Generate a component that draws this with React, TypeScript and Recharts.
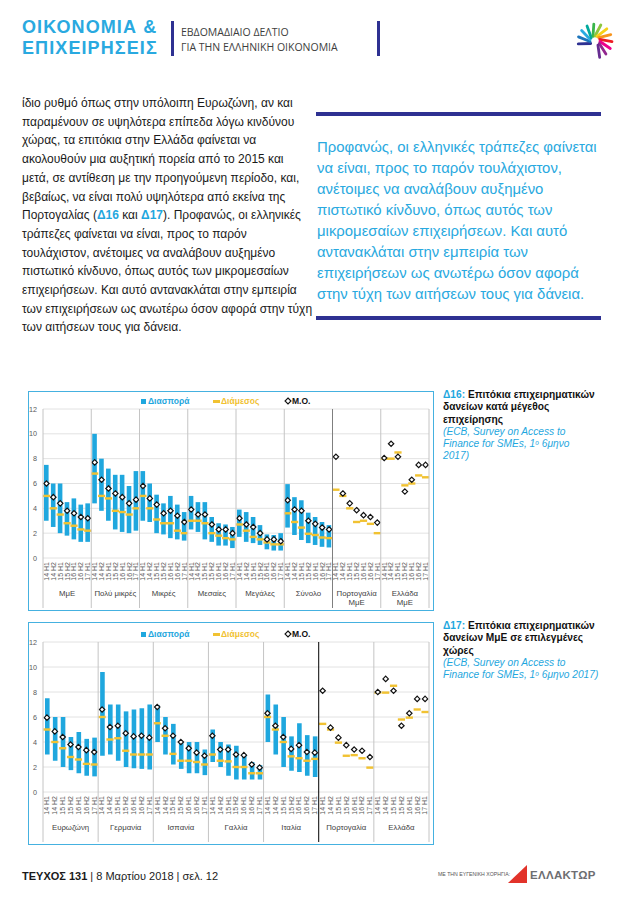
import React from 'react';
import { ComposedChart, Bar, Line, XAxis, YAxis, CartesianGrid } from 'recharts';

const periods = ['14 H1', '14 H2', '15 H1', '15 H2', '16 H1', '16 H2', '17 H1'];
const yTicks = [0, 2, 4, 6, 8, 10, 12];

// Δ16 - by firm size
const groups16 = ['ΜμΕ', 'Πολύ μικρές', 'Μικρές', 'Μεσαίες', 'Μεγάλες', 'Σύνολο', 'Πορτογαλία\nΜμΕ', 'Ελλάδα\nΜμΕ'];
const low16 = [
  3.0, 2.5, 2.0, 1.8, 1.5, 1.3, 1.3,
  4.4, 3.8, 3.0, 2.3, 2.1, 2.0, 2.2,
  3.0, 2.9, 2.0, 1.9, 1.6, 1.5, 1.4,
  2.3, 2.1, 1.5, 1.3, 1.0, 1.0, 0.8,
  1.7, 1.3, 1.2, 1.05, 0.7, 0.6, 0.6,
  2.45, 1.85, 1.45, 1.2, 1.05, 0.9, 0.85,
  null, null, null, null, null, null, null,
  null, null, null, null, null, null, null,
];
const high16 = [
  7.5, 6.0, 6.0, 4.5, 4.8, 4.3, 4.4,
  10.0, 8.0, 7.2, 6.7, 6.7, 5.8, 7.0,
  7.0, 6.0, 5.1, 4.4, 5.0, 4.3, 3.7,
  5.0, 4.5, 4.5, 3.3, 2.8, 2.7, 2.5,
  3.9, 3.7, 3.3, 2.65, 1.9, 1.85, 2.0,
  5.95, 4.9, 4.65, 3.65, 3.3, 2.9, 2.65,
  null, null, null, null, null, null, null,
  null, null, null, null, null, null, null,
];
const median16 = [
  5.0, 4.0, 3.5, 2.8, 2.6, 2.3, 2.2,
  6.8, 5.0, 4.8, 3.8, 3.7, 3.5, 4.0,
  5.0, 4.0, 3.1, 2.8, 2.8, 2.2, 2.0,
  3.0, 3.0, 2.8, 2.0, 1.8, 1.6, 1.5,
  2.7, 2.2, 1.7, 1.5, 1.25, 1.1, 1.1,
  3.6, 2.9, 2.45, 1.95, 1.85, 1.65, 1.6,
  5.5, 5.0, 4.0, 2.9, 3.0, 2.75, 2.0,
  8.0, 8.0, 8.5, 5.85, 6.0, 6.65, 6.5,
];
const mean16 = [
  6.0, 4.9, 4.4, 3.8, 3.6, 3.3, 3.2,
  7.7, 6.3, 5.6, 5.2, 4.9, 4.4, 4.7,
  5.8, 4.8, 4.3, 3.6, 3.8, 3.4, 2.9,
  3.9, 3.5, 3.5, 2.7, 2.3, 2.3, 2.0,
  3.2, 2.7, 2.5, 2.0, 1.5, 1.5, 1.35,
  4.65, 3.9, 3.8, 3.0, 2.75, 2.45, 2.3,
  8.15, 5.2, 4.4, 3.85, 3.45, 3.3, 2.85,
  8.05, 9.2, 8.15, 5.35, 6.3, 7.5, 7.5,
];

// Δ17 - SMEs by country
const groups17 = ['Ευρωζώνη', 'Γερμανία', 'Ισπανία', 'Γαλλία', 'Ιταλία', 'Πορτογαλία', 'Ελλάδα'];
const low17 = [
  3.0, 2.5, 2.0, 1.75, 1.5, 1.3, 1.25,
  2.9, 3.0, 2.5, 2.0, 1.9, 1.85, 1.8,
  4.0, 3.0, 2.2, 1.85, 1.5, 1.5, 1.35,
  2.4, 2.0, 1.3, 1.0, 1.0, 1.0, 1.0,
  4.0, 3.0, 2.0, 1.7, 1.6, 1.3, 1.2,
  null, null, null, null, null, null, null,
  null, null, null, null, null, null, null,
];
const high17 = [
  7.5, 6.0, 6.0, 4.4, 4.8, 4.25, 4.35,
  9.6, 7.0, 7.0, 6.45, 6.6, 6.7, 7.0,
  6.95, 6.0, 5.45, 4.0, 4.0, 4.0, 3.4,
  5.0, 4.0, 3.8, 3.7, 3.0, 2.4, 2.15,
  7.8, 7.0, 6.0, 4.45, 5.5, 4.55, 4.45,
  null, null, null, null, null, null, null,
  null, null, null, null, null, null, null,
];
const median17 = [
  5.0, 4.0, 3.5, 2.8, 2.6, 2.25, 2.2,
  6.0, 4.2, 4.3, 3.3, 3.0, 3.0, 3.0,
  5.5, 4.5, 3.05, 2.5, 2.5, 2.4, 2.2,
  3.0, 2.5, 2.45, 2.0, 2.0, 1.5, 1.5,
  6.0, 5.0, 4.0, 2.85, 2.7, 2.5, 2.65,
  5.45, 5.0, 3.95, 2.9, 2.95, 2.7, 1.95,
  7.95, 7.95, 8.5, 5.8, 5.95, 6.6, 6.4,
];
const mean17 = [
  5.95, 4.85, 4.4, 3.8, 3.6, 3.35, 3.2,
  6.6, 5.2, 5.3, 4.7, 4.45, 4.5, 4.35,
  6.8, 5.1, 4.5, 4.0, 3.5, 3.15, 2.9,
  4.5, 3.4, 3.4, 3.0, 2.95, 2.2, 1.95,
  6.3, 5.3, 4.4, 3.45, 3.75, 3.2, 3.15,
  8.1, 5.15, 4.35, 3.75, 3.4, 3.3, 2.8,
  8.0, 9.05, 8.1, 5.3, 6.3, 7.45, 7.45,
];

const CYAN = '#1fa7de';
const GOLD = '#f1c232';
const NAVY = '#2e3192';
const FONT = '"Liberation Sans", Arial, sans-serif';

function buildRows(low: (number | null)[], high: (number | null)[], median: number[], mean: number[]) {
  return median.map((m, i) => ({
    key: String(i),
    range: low[i] == null ? null : [low[i], high[i]],
    median: m,
    mean: mean[i],
  }));
}

const MedianDot = (p: any) => {
  if (p.cy == null || isNaN(p.cy)) return <g key={p.key} />;
  return <rect key={p.key} x={p.cx - 3.6} y={p.cy - 1.2} width={7.2} height={2.4} fill={GOLD} />;
};

const MeanDot = (p: any) => {
  if (p.cy == null || isNaN(p.cy)) return <g key={p.key} />;
  const r = 2.7;
  const { cx, cy } = p;
  return (
    <polygon
      key={p.key}
      points={`${cx},${cy - r} ${cx + r},${cy} ${cx},${cy + r} ${cx - r},${cy}`}
      fill="#fff"
      stroke="#111"
      strokeWidth={1.2}
    />
  );
};

function Legend({ top }: { top: number }) {
  const txt = { position: 'absolute' as const, top: top - 6, fontSize: 8.5, fontWeight: 700, fontFamily: FONT, lineHeight: '12px', whiteSpace: 'nowrap' as const };
  return (
    <>
      <div style={{ position: 'absolute', left: 113, top: top - 2.5, width: 5, height: 5, background: CYAN }} />
      <div style={{ ...txt, left: 120, color: CYAN }}>Διασπορά</div>
      <div style={{ position: 'absolute', left: 185, top: top - 1, width: 7, height: 2.5, background: GOLD }} />
      <div style={{ ...txt, left: 193, color: GOLD }}>Διάμεσος</div>
      <svg style={{ position: 'absolute', left: 256, top: top - 4 }} width={8} height={8}>
        <polygon points="4,1 7,4 4,7 1,4" fill="#fff" stroke="#111" strokeWidth={1.1} />
      </svg>
      <div style={{ ...txt, left: 264, color: '#111' }}>M.O.</div>
    </>
  );
}

type ChartProps = {
  groups: string[];
  rows: any[];
  boxTop: number;
  boxHeight: number;
  plotTop: number;
  plotH: number;
  darkSep: number;
  darkColor: string;
  legendTop: number;
};

function RangeChart({ groups, rows, boxTop, boxHeight, plotTop, plotH, darkSep, darkColor, legendTop }: ChartProps) {
  const width = 406;
  const mLeft = 3;
  const yw = 12;
  const mRight = 5;
  const band = (width - mLeft - yw - mRight) / rows.length;
  const plotBottom = plotTop + plotH;

  const renderTick = (props: any) => {
    const { x, payload } = props;
    const i = Number(payload.value);
    const k = i % 7;
    const g = Math.floor(i / 7);
    const sepColor = i === darkSep ? darkColor : '#c4c4c4';
    return (
      <g>
        <text
          transform={`translate(${x + 2.4},${plotBottom + 4}) rotate(-90)`}
          textAnchor="end"
          fontSize={7}
          fill="#595959"
          fontFamily={FONT}
        >
          {periods[k]}
        </text>
        {k === 0 && (
          <line x1={x - band / 2} x2={x - band / 2} y1={plotTop} y2={plotBottom + 50} stroke={sepColor} strokeWidth={1} />
        )}
        {i === rows.length - 1 && (
          <line x1={x + band / 2} x2={x + band / 2} y1={plotTop} y2={plotBottom + 50} stroke="#c4c4c4" strokeWidth={1} />
        )}
        {k === 3 && (
          <text x={x} y={plotBottom + 37.5} textAnchor="middle" fontSize={7.8} fill="#404040" fontFamily={FONT}>
            {groups[g].split('\n').map((s, j) => (
              <tspan key={j} x={x} dy={j ? 9.5 : 0}>
                {s}
              </tspan>
            ))}
          </text>
        )}
      </g>
    );
  };

  return (
    <div style={{ position: 'absolute', left: 28, top: boxTop, width, height: boxHeight }}>
      <ComposedChart
        width={width}
        height={boxHeight}
        data={rows}
        margin={{ top: plotTop, right: mRight, left: mLeft, bottom: 0 }}
      >
        <CartesianGrid vertical={false} stroke="#e2e2e2" />
        <XAxis
          dataKey="key"
          interval={0}
          axisLine={false}
          tickLine={false}
          tickSize={0}
          height={boxHeight - plotTop - plotH}
          tick={renderTick}
        />
        <YAxis
          domain={[0, 12]}
          ticks={yTicks}
          interval={0}
          width={yw}
          axisLine={false}
          tickLine={false}
          tickSize={0}
          tickMargin={6}
          tick={{ fontSize: 7.2, fill: '#595959', fontFamily: FONT }}
        />
        <Bar dataKey="range" fill={CYAN} barSize={4.6} isAnimationActive={false} />
        <Line dataKey="median" stroke="none" dot={MedianDot} activeDot={false} isAnimationActive={false} />
        <Line dataKey="mean" stroke="none" dot={MeanDot} activeDot={false} isAnimationActive={false} />
      </ComposedChart>
      <Legend top={legendTop} />
      <div style={{ position: 'absolute', left: 0, top: 0, width, height: boxHeight, border: '1.5px solid #45b1e0', boxSizing: 'border-box', pointerEvents: 'none' }} />
    </div>
  );
}

function StarLogo() {
  const colors = ['#2e3192', '#1c75bc', '#27aae1', '#00a99d', '#39b54a', '#8dc63f', '#f7d117', '#f7941d', '#ed1c24', '#ec008c', '#92278f', '#662d91'];
  const cx = 19;
  const cy = 19;
  return (
    <svg width={40} height={40} style={{ position: 'absolute', left: 576, top: 22 }}>
      {colors.map((c, i) => {
        const a = ((150 + i * 24) * Math.PI) / 180;
        const b = a + 0.35;
        return (
          <line
            key={i}
            x1={cx + Math.cos(a) * 5}
            y1={cy + Math.sin(a) * 5}
            x2={cx + Math.cos(b) * 17}
            y2={cy + Math.sin(b) * 17}
            stroke={c}
            strokeWidth={2.8}
            strokeLinecap="round"
          />
        );
      })}
    </svg>
  );
}

const leftLines = [
  'ίδιο ρυθμό όπως στην υπόλοιπη Ευρωζώνη, αν και',
  'παραμένουν σε υψηλότερα επίπεδα λόγω κινδύνου',
  'χώρας, τα επιτόκια στην Ελλάδα φαίνεται να',
  'ακολουθούν μια αυξητική πορεία από το 2015 και',
  'μετά, σε αντίθεση με την προηγούμενη περίοδο, και,',
  'βεβαίως, να είναι πολύ υψηλότερα από εκείνα της',
  '@',
  'τράπεζες φαίνεται να είναι, προς το παρόν',
  'τουλάχιστον, ανέτοιμες να αναλάβουν αυξημένο',
  'πιστωτικό κίνδυνο, όπως αυτός των μικρομεσαίων',
  'επιχειρήσεων. Και αυτό αντανακλάται στην εμπειρία',
  'των επιχειρήσεων ως ανωτέρω όσον αφορά στην τύχη',
  'των αιτήσεων τους για δάνεια.',
];

const quoteLines = [
  'Προφανώς, οι ελληνικές τράπεζες φαίνεται',
  'να είναι, προς το παρόν τουλάχιστον,',
  'ανέτοιμες να αναλάβουν αυξημένο',
  'πιστωτικό κίνδυνο, όπως αυτός των',
  'μικρομεσαίων επιχειρήσεων. Και αυτό',
  'αντανακλάται στην εμπειρία των',
  'επιχειρήσεων ως ανωτέρω όσον αφορά',
  'στην τύχη των αιτήσεων τους για δάνεια.',
];

function Caption({ top, num, title, source }: { top: number; num: string; title: string[]; source: React.ReactNode[] }) {
  return (
    <div style={{ position: 'absolute', left: 443, top, fontFamily: FONT, fontSize: 10.2, lineHeight: '12.3px', whiteSpace: 'nowrap' }}>
      {title.map((t, i) => (
        <div key={i} style={{ fontWeight: 700, color: '#111' }}>
          {i === 0 && <span style={{ color: CYAN }}>{num}: </span>}
          {t}
        </div>
      ))}
      {source.map((s, i) => (
        <div key={'s' + i} style={{ fontStyle: 'italic', color: CYAN }}>
          {s}
        </div>
      ))}
    </div>
  );
}

const sup = { fontSize: 6.5, verticalAlign: 'top' as const, lineHeight: '10px' };

export default function App() {
  const rows16 = buildRows(low16, high16, median16, mean16);
  const rows17 = buildRows(low17, high17, median17, mean17);
  return (
    <div style={{ position: 'absolute', left: 0, top: 0, width: 638, height: 903, background: '#fff', overflow: 'hidden', fontFamily: FONT }}>
      {/* header */}
      <div style={{ position: 'absolute', left: 22, top: 17, fontFamily: FONT, fontWeight: 700, fontSize: 18, lineHeight: '20.5px', letterSpacing: 1.1, color: '#29a9e0', whiteSpace: 'nowrap' }}>
        <div>ΟΙΚΟΝΟΜΙΑ &amp;</div>
        <div>ΕΠΙΧΕΙΡΗΣΕΙΣ</div>
      </div>
      <div style={{ position: 'absolute', left: 171, top: 21, width: 3, height: 35, background: NAVY }} />
      <div style={{ position: 'absolute', left: 181, top: 25, fontFamily: '"Open Sans", sans-serif', fontSize: 10.5, lineHeight: '15px', color: '#3d3d3d', whiteSpace: 'nowrap' }}>
        <div>ΕΒΔΟΜΑΔΙΑΙΟ ΔΕΛΤΙΟ</div>
        <div>ΓΙΑ ΤΗΝ ΕΛΛΗΝΙΚΗ ΟΙΚΟΝΟΜΙΑ</div>
      </div>
      <div style={{ position: 'absolute', left: 377, top: 21, width: 3, height: 35, background: NAVY }} />
      <StarLogo />

      {/* left column text */}
      <div style={{ position: 'absolute', left: 22, top: 94, fontSize: 12, lineHeight: '18.7px', color: '#1a1a1a', whiteSpace: 'nowrap' }}>
        {leftLines.map((l, i) =>
          l === '@' ? (
            <div key={i}>
              Πορτογαλίας (<b style={{ color: CYAN }}>Δ16</b> και <b style={{ color: CYAN }}>Δ17</b>). Προφανώς, οι ελληνικές
            </div>
          ) : (
            <div key={i}>{l}</div>
          ),
        )}
      </div>

      {/* right column quote */}
      <div style={{ position: 'absolute', left: 316, top: 112, width: 285, height: 4, background: NAVY }} />
      <div style={{ position: 'absolute', left: 317, top: 136.5, fontSize: 14.9, lineHeight: '21px', color: '#29a9e0', whiteSpace: 'nowrap' }}>
        {quoteLines.map((l, i) => (
          <div key={i}>{l}</div>
        ))}
      </div>
      <div style={{ position: 'absolute', left: 316, top: 316, width: 285, height: 4, background: NAVY }} />

      {/* charts */}
      <RangeChart groups={groups16} rows={rows16} boxTop={391} boxHeight={220} plotTop={18} plotH={149} darkSep={42} darkColor="#7f7f7f" legendTop={10} />
      <RangeChart groups={groups17} rows={rows17} boxTop={622} boxHeight={223} plotTop={20} plotH={150} darkSep={35} darkColor="#000" legendTop={12} />

      <Caption
        top={389}
        num="Δ16"
        title={['Επιτόκια επιχειρηματικών', 'δανείων κατά μέγεθος', 'επιχείρησης']}
        source={['(ECB, Survey on Access to', <>Finance for SMEs, 1<span style={sup}>ο</span> 6μηνο</>, '2017)']}
      />
      <Caption
        top={620}
        num="Δ17"
        title={['Επιτόκια επιχειρηματικών', 'δανείων ΜμΕ σε επιλεγμένες', 'χώρες']}
        source={['(ECB, Survey on Access to', <>Finance for SMEs, 1<span style={sup}>ο</span> 6μηνο 2017)</>]}
      />

      {/* footer */}
      <div style={{ position: 'absolute', left: 22, top: 869, fontSize: 11, lineHeight: '14px', color: '#1a1a1a', whiteSpace: 'nowrap' }}>
        <b>ΤΕΥΧΟΣ 131</b> | 8 Μαρτίου 2018 | σελ. 12
      </div>
      <div style={{ position: 'absolute', left: 438, top: 871, fontSize: 5.2, lineHeight: '7px', color: '#555', whiteSpace: 'nowrap' }}>
        ΜΕ ΤΗΝ ΕΥΓΕΝΙΚΗ ΧΟΡΗΓΙΑ:
      </div>
      <svg style={{ position: 'absolute', left: 508, top: 865 }} width={20} height={19}>
        <polygon points="0,18 19,0 19,18" fill="#e2332a" />
      </svg>
      <div style={{ position: 'absolute', left: 530, top: 868, fontSize: 11.5, fontWeight: 700, lineHeight: '14px', color: '#6d6e71', whiteSpace: 'nowrap', letterSpacing: 0.3 }}>
        ΕΛΛΑΚΤΩΡ
      </div>
    </div>
  );
}
